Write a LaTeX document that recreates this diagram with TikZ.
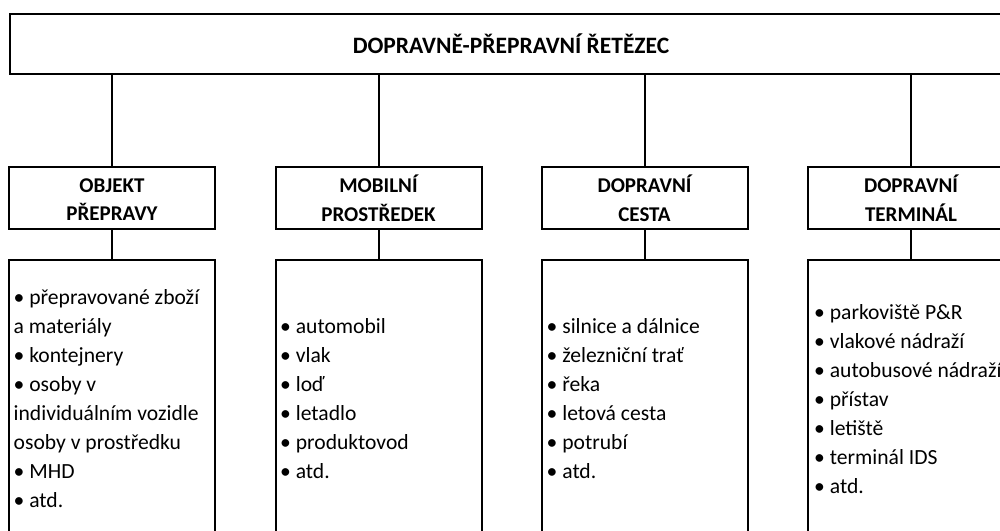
\documentclass[tikz,border=0pt]{standalone}
\usepackage{fontspec}
\setmainfont{Carlito}
\begin{document}
\begin{tikzpicture}[x=1pt,y=-1pt,
  box/.style={draw,line width=2pt,rectangle,inner sep=0pt},
  titlebox/.style={box,minimum width=1002pt,minimum height=60pt,font=\bfseries\fontsize{23.5pt}{29pt}\selectfont},
  catbox/.style={box,minimum width=206pt,minimum height=62pt,align=center,font=\bfseries\fontsize{21pt}{28.5pt}\selectfont},
  listbox/.style={box,minimum width=206pt,minimum height=278pt,anchor=north},
  listtext/.style={anchor=west,align=left,inner sep=0pt,font=\fontsize{21.6pt}{29pt}\selectfont},
  conn/.style={line width=2pt}]
\useasboundingbox (0,0) rectangle (1000,530);
\clip (0,0) rectangle (1000,530);
\node[titlebox] (top) at (511,44) {DOPRAVNĚ-PŘEPRAVNÍ ŘETĚZEC};
\node[catbox] (c1) at (112,198) {\rule{0pt}{17pt}OBJEKT\\PŘEPRAVY};
\node[catbox] (c2) at (378.5,198) {\rule{0pt}{17pt}MOBILNÍ\\PROSTŘEDEK};
\node[catbox] (c3) at (644.5,198) {\rule{0pt}{17pt}DOPRAVNÍ\\CESTA};
\node[catbox] (c4) at (911,198) {\rule{0pt}{17pt}DOPRAVNÍ\\TERMINÁL};
\node[listbox] (l1) at (112,259) {};
\node[listbox] (l2) at (378.5,259) {};
\node[listbox] (l3) at (644.5,259) {};
\node[listbox] (l4) at (911,259) {};
\node[listtext] (t1) at ([xshift=5.5pt]l1.west) {• přepravované zboží\\a materiály\\• kontejnery\\• osoby v\\individuálním vozidle\\osoby v prostředku\\• MHD\\• atd.};
\node[listtext] (t2) at ([xshift=5.5pt]l2.west) {• automobil\\• vlak\\• loď\\• letadlo\\• produktovod\\• atd.};
\node[listtext] (t3) at ([xshift=6pt]l3.west) {• silnice a dálnice\\• železniční trať\\• řeka\\• letová cesta\\• potrubí\\• atd.};
\node[listtext] (t4) at ([xshift=7pt]l4.west) {• parkoviště P\&R\\• vlakové nádraží\\• autobusové nádraží\\• přístav\\• letiště\\• terminál IDS\\• atd.};
\foreach \i in {1,2,3,4}{
  \draw[conn] (top.south -| c\i.north) -- (c\i.north);
  \draw[conn] (c\i.south) -- (l\i.north);
}
\end{tikzpicture}
\end{document}
